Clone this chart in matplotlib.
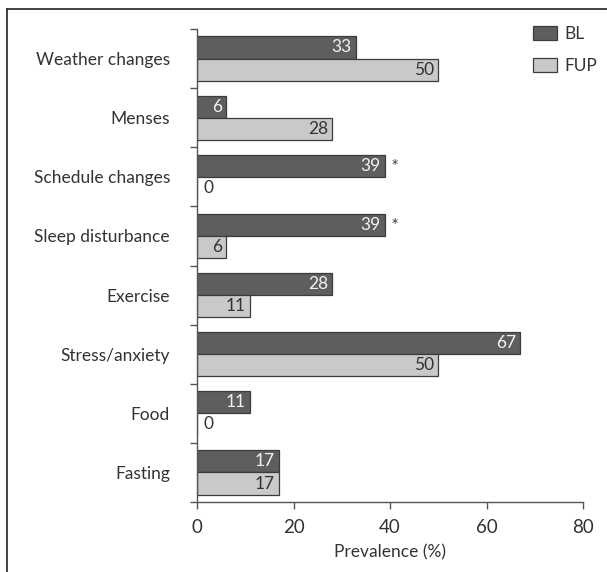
import matplotlib
matplotlib.use("Agg")
import matplotlib.pyplot as plt
from matplotlib.lines import Line2D
import numpy as np

categories = ["Weather changes", "Menses", "Schedule changes", "Sleep disturbance",
              "Exercise", "Stress/anxiety", "Food", "Fasting"]
bl_values = [33, 6, 39, 39, 28, 67, 11, 17]
fup_values = [50, 28, 0, 6, 11, 50, 0, 17]
significant_bl = [False, False, True, True, False, False, False, False]
series_names = ["BL", "FUP"]
x_ticks = [0, 20, 40, 60, 80]
x_label = "Prevalence (%)"

plt.rcParams["font.family"] = ["Lato", "DejaVu Sans"]
FS = 12.5
TEXT = "#333333"
BL_COLOR = "#5e5e5f"
FUP_COLOR = "#c8c9ca"
EDGE = "#3c3c3c"

fig = plt.figure(figsize=(6.07, 5.72), dpi=100)
W, H = 607, 572
ax = fig.add_axes([197 / W, 1 - 502 / H, (583 - 197) / W, (502 - 29) / H])

n = len(categories)
centers = np.arange(n)[::-1] + 0.5
bh = 0.375

bl_bars = ax.barh(centers + bh / 2, bl_values, height=bh, color=BL_COLOR,
                  edgecolor=EDGE, linewidth=0.9, label=series_names[0])
fup_bars = ax.barh(centers - bh / 2, fup_values, height=bh, color=FUP_COLOR,
                   edgecolor=EDGE, linewidth=0.9, label=series_names[1])

# value labels: inside the bar end, or just right of the axis for zero
for bars, vals, inside_color in ((bl_bars, bl_values, "#f2f2f2"),
                                 (fup_bars, fup_values, TEXT)):
    for rect, v in zip(bars, vals):
        yc = rect.get_y() + rect.get_height() / 2
        if v == 0:
            ax.annotate(str(v), (0, yc), xytext=(4.5, 0), textcoords="offset points",
                        ha="left", va="center", fontsize=FS, color=TEXT)
        else:
            ax.annotate(str(v), (v, yc), xytext=(-3, 0), textcoords="offset points",
                        ha="right", va="center", fontsize=FS, color=inside_color)

for rect, v, sig in zip(bl_bars, bl_values, significant_bl):
    if sig:
        yc = rect.get_y() + rect.get_height() / 2
        ax.annotate("*", (v, yc), xytext=(5, 1), textcoords="offset points",
                    ha="left", va="center", fontsize=9, color=TEXT,
                    family="DejaVu Sans")

ax.set_xlim(0, 80)
ax.set_ylim(0, n)
ax.set_xticks(x_ticks)
ax.set_xticklabels([str(t) for t in x_ticks], fontsize=FS + 1, color=TEXT)
ax.set_xlabel(x_label, fontsize=FS, color=TEXT, labelpad=6)

ax.set_yticks(np.arange(n + 1))
ax.set_yticklabels([])
ax.set_yticks(centers, minor=True)
ax.set_yticklabels(categories, minor=True, fontsize=FS, color=TEXT)
ax.tick_params(axis="y", which="minor", length=0, pad=19.5)
ax.tick_params(axis="y", which="major", length=5, width=1, color="#555555")
ax.tick_params(axis="x", length=5, width=1, color="#555555", pad=7)

for side in ("top", "right"):
    ax.spines[side].set_visible(False)
for side in ("left", "bottom"):
    ax.spines[side].set_color("#555555")
    ax.spines[side].set_linewidth(1)

leg = ax.legend(loc="upper left", bbox_to_anchor=(533 / W, 1 - 26 / H),
                bbox_transform=fig.transFigure, frameon=False, fontsize=FS,
                handlelength=1.4, handleheight=0.9, handletextpad=0.4,
                labelspacing=0.9, borderpad=0, borderaxespad=0)
for t in leg.get_texts():
    t.set_color(TEXT)

# outer frame: left and top rules
fig.add_artist(Line2D([7 / W, 7 / W], [0, 1 - 9 / H], transform=fig.transFigure,
                      color="#333333", linewidth=1.3))
fig.add_artist(Line2D([7 / W, 1], [1 - 9 / H, 1 - 9 / H], transform=fig.transFigure,
                      color="#333333", linewidth=1.3))

fig.savefig("out.png", dpi=100, facecolor="white")
